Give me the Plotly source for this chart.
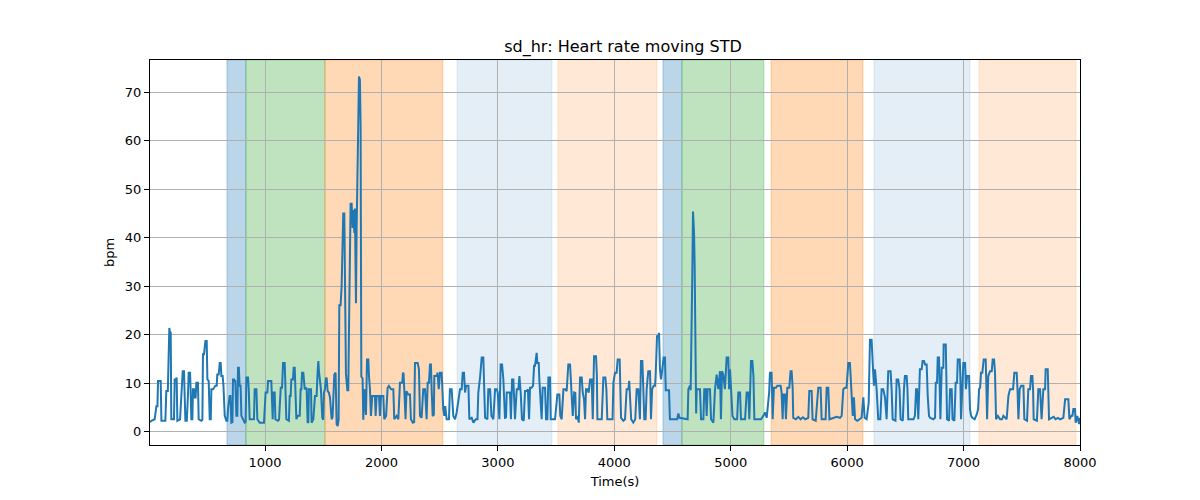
import plotly.graph_objects as go

# ---- data ----
time_s = [
    12, 24, 52, 58, 67, 76, 81, 104, 110, 144, 152, 165, 172, 178, 184, 190, 195, 218, 224, 236,
    241, 247, 270, 281, 287, 293, 304, 310, 316, 328, 333, 339, 344, 356, 361, 367, 376, 381, 390, 396,
    404, 410, 424, 430, 453, 462, 467, 476, 488, 499, 505, 516, 525, 534, 539, 553, 562, 573, 585, 590,
    602, 611, 619, 625, 636, 643, 654, 668, 676, 682, 696, 703, 711, 720, 725, 734, 740, 745, 754, 762,
    768, 775, 782, 790, 797, 810, 825, 833, 840, 854, 860, 868, 883, 905, 911, 926, 934, 954, 991, 997,
    1005, 1020, 1026, 1054, 1060, 1066, 1071, 1083, 1089, 1110, 1120, 1126, 1135, 1146, 1155, 1169, 1175, 1183, 1205, 1212,
    1220, 1226, 1240, 1246, 1255, 1260, 1269, 1280, 1298, 1306, 1312, 1318, 1329, 1341, 1357,
    1366, 1372, 1377, 1395, 1400, 1415, 1429, 1443, 1452, 1458, 1463, 1472, 1480, 1492, 1500, 1506, 1515, 1523, 1529, 1538,
    1548, 1558, 1572, 1580, 1586, 1595, 1606, 1615, 1624, 1632, 1638, 1649, 1658, 1666, 1672, 1681, 1686, 1695, 1707, 1715,
    1724, 1729, 1735, 1744, 1752, 1758, 1767, 1772, 1781, 1787, 1795, 1801, 1807, 1815, 1821, 1827, 1838, 1844, 1853, 1858,
    1867, 1876, 1887, 1893, 1901, 1910, 1921, 1944, 1950, 1959, 1979, 1987, 1996, 2016, 2024, 2040, 2053, 2064, 2074, 2082,
    2102, 2110, 2130, 2145, 2159, 2179, 2185, 2190, 2196, 2207, 2215, 2230, 2245, 2253, 2270, 2281, 2288, 2311, 2322, 2331,
    2345, 2359, 2374, 2388, 2397, 2408, 2417, 2425, 2431, 2440, 2450, 2454, 2474, 2482, 2492, 2503, 2517, 2523, 2531, 2540,
    2548, 2560, 2580, 2588, 2603, 2617, 2632, 2646, 2666, 2675, 2689,
    2698, 2709, 2718, 2727, 2747, 2755, 2775, 2790, 2810, 2825, 2832, 2847, 2861, 2875, 2881, 2890, 2910, 2918, 2933, 2945,
    2961, 2976, 2990, 2999, 3013, 3024, 3036, 3047, 3061, 3070, 3076, 3104, 3112, 3122, 3133, 3147, 3162, 3176, 3185, 3196,
    3207, 3222, 3233, 3248, 3258, 3268, 3276, 3290, 3302, 3311, 3319, 3328, 3333, 3339, 3351, 3356, 3365, 3376, 3385, 3405,
    3414, 3425, 3434, 3448, 3454, 3491, 3511, 3528, 3536, 3548, 3563, 3577, 3591, 3605, 3620, 3628, 3643, 3655, 3665, 3671,
    3683, 3695, 3706, 3720, 3729, 3740, 3749, 3757, 3769, 3780, 3792, 3806, 3815, 3826, 3843, 3850, 3855, 3892, 3906, 3923,
    3932, 3940, 3985, 3992, 4006, 4020, 4029, 4046, 4052,
    4058, 4078, 4092, 4106, 4121, 4128, 4135, 4145, 4163, 4180, 4192, 4206, 4220, 4229, 4241, 4249, 4258, 4269, 4278, 4292,
    4307, 4315, 4325, 4338, 4350, 4355, 4367, 4378, 4384, 4392, 4401, 4412, 4424, 4435, 4442, 4470, 4478, 4540, 4550, 4560,
    4620, 4630, 4636, 4650, 4656, 4662, 4670, 4676, 4685, 4690, 4696, 4703, 4708, 4736, 4745, 4765, 4773, 4785, 4793, 4802,
    4822, 4831, 4851, 4865, 4879, 4893, 4908, 4916, 4925, 4936, 4950, 4965, 4979, 4986, 4994, 5002, 5015, 5031, 5055, 5065,
    5080, 5088, 5123, 5137, 5151, 5160, 5174, 5186, 5195, 5203, 5260, 5280, 5295, 5309, 5323, 5330,
    5337, 5351, 5360, 5371, 5389, 5400, 5429, 5437, 5446, 5452, 5466, 5474, 5486, 5503, 5514, 5523, 5532, 5537, 5560, 5580,
    5600, 5620, 5640, 5666, 5675, 5695, 5703, 5730, 5752, 5772, 5781, 5815, 5824, 5838, 5848, 5880, 5910, 5938, 5953, 5967,
    5981, 5995, 6010, 6024, 6030, 6038, 6048, 6058, 6068, 6087, 6110, 6124, 6139, 6150, 6167, 6185, 6196, 6210, 6220, 6230,
    6239, 6253, 6267, 6285, 6296, 6310, 6325, 6339, 6353, 6373, 6382, 6391, 6415, 6425, 6439, 6450, 6459, 6478, 6488, 6496,
    6511, 6518, 6525, 6570, 6582, 6592, 6600, 6611, 6625, 6640, 6648, 6660, 6669, 6683, 6692,
    6703, 6712, 6740, 6755, 6761, 6772, 6778, 6789, 6795, 6801, 6812, 6826, 6829, 6847, 6852, 6858, 6875, 6884, 6898, 6905,
    6921, 6932, 6944, 6950, 6967, 6972, 6978, 6988, 6998, 7013, 7020, 7030, 7047, 7055, 7065, 7075, 7095, 7113, 7125, 7133,
    7142, 7150, 7161, 7173, 7190, 7196, 7202, 7212, 7227, 7242, 7250, 7262, 7270, 7279, 7295, 7313, 7330, 7342, 7370, 7385,
    7399, 7413, 7425, 7436, 7456, 7463, 7471, 7482, 7494, 7514, 7522, 7545, 7556, 7571, 7579, 7591, 7597, 7602, 7630, 7642,
    7657, 7670, 7685, 7700, 7705, 7723, 7728, 7734, 7757, 7775, 7790, 7810, 7830, 7857, 7872, 7900, 7909, 7925, 7935, 7943,
    7957, 7963, 7977, 7992, 8000,
]

sd_hr_bpm = [
    2.0, 2.3, 2.6, 3.4, 5.3, 5.3, 10.5, 10.5, 2.3, 2.3, 8.4, 8.4, 21.4, 21.4, 20.4, 20.4, 2.6, 2.6, 10.8, 10.8,
    11.2, 2.3, 2.6, 8.8, 8.8, 12.5, 12.5, 8.8, 2.3, 2.3, 8.1, 8.1, 12.2, 12.2, 8.8, 2.6, 2.6, 8.8, 8.8, 7.1,
    7.1, 10.1, 10.1, 2.6, 2.3, 2.5, 16.0, 16.0, 18.7, 18.7, 10.8, 10.5, 2.6, 2.6, 8.8, 8.8, 9.1, 9.5, 9.5, 11.8,
    11.8, 14.2, 14.2, 11.5, 11.5, 9.5, 3.3, 2.3, 2.3, 4.7, 7.4, 7.4, 1.9, 2.0, 10.8, 10.8, 10.5, 10.5, 3.3, 3.3,
    13.2, 13.2, 9.5, 9.5, 3.3, 2.6, 1.9, 2.0, 11.2, 11.2, 8.8, 2.6, 2.6, 2.6, 8.8, 8.8, 2.6, 1.9, 1.9, 6.0,
    8.1, 8.1, 10.5, 10.5, 2.6, 2.6, 8.1, 8.1, 2.6, 2.3, 2.5, 6.7, 9.1, 9.1, 14.2, 14.2, 9.5, 2.6, 2.3, 7.4,
    7.4, 10.8, 10.8, 13.2, 13.2, 8.8, 2.6, 3.3, 3.3, 8.8, 8.8, 12.2, 12.2, 8.8, 9.1,
    1.9, 2.0, 8.8, 8.8, 1.9, 2.6, 7.4, 7.4, 12.5, 14.6, 12.5, 10.8, 8.8, 2.9, 2.5, 8.1, 8.8, 11.0, 11.2, 8.4,
    8.1, 7.1, 2.6, 3.0, 8.8, 11.8, 12.2, 1.6, 1.2, 2.5, 26.1, 26.1, 30.0, 36.0, 45.0, 45.0, 32.0, 12.0, 8.6, 8.6,
    26.5, 35.0, 47.0, 47.0, 42.0, 45.7, 41.0, 46.0, 26.5, 42.0, 55.3, 56.7, 73.2, 72.5, 63.0, 11.4, 11.0, 2.5, 8.8, 7.3,
    3.5, 14.9, 14.9, 11.5, 8.8, 3.3, 7.4, 7.4, 3.3, 7.4, 7.4, 3.3, 7.4, 7.4, 2.6, 3.3, 9.1, 9.5, 9.0, 8.8,
    8.8, 2.6, 3.3, 2.6, 10.1, 10.1, 12.2, 12.0, 8.8, 2.6, 8.4, 7.7, 7.7, 2.6, 1.9, 2.0, 14.2, 14.2, 12.9, 3.3,
    2.9, 8.8, 8.8, 2.6, 10.1, 10.1, 13.9, 13.9, 8.8, 3.3, 3.5, 11.5, 11.5, 12.2, 8.8, 12.2, 12.2, 8.4, 4.7, 3.3,
    5.3, 2.6, 2.6, 8.8, 8.8, 3.3, 2.6, 4.0, 7.4, 8.8, 8.8,
    12.2, 12.2, 8.1, 9.5, 9.5, 2.6, 2.9, 1.9, 2.6, 2.6, 8.1, 11.2, 15.3, 15.3, 11.2, 2.9, 2.6, 8.8, 8.8, 3.3,
    2.6, 8.8, 8.8, 8.1, 2.6, 13.9, 13.9, 10.8, 2.9, 3.0, 8.1, 8.1, 2.6, 10.8, 10.8, 2.6, 8.8, 8.8, 11.5, 8.1,
    2.6, 2.3, 8.4, 8.4, 8.8, 2.6, 9.1, 9.1, 9.5, 13.6, 13.6, 16.3, 16.3, 14.2, 14.2, 10.8, 7.4, 2.6, 9.1, 9.1,
    2.6, 2.6, 11.2, 11.2, 2.6, 2.6, 7.7, 7.7, 3.3, 2.6, 8.8, 8.8, 8.4, 13.9, 13.9, 10.8, 3.3, 8.1, 8.0, 2.6,
    3.3, 1.9, 11.2, 11.2, 8.1, 6.7, 2.6, 8.8, 8.8, 8.1, 10.8, 10.8, 2.6, 15.6, 15.6, 11.8, 2.6, 2.6, 11.2, 11.2,
    8.8, 2.6, 2.6, 10.1, 12.2, 12.2, 14.9, 14.9, 8.1,
    2.9, 2.3, 2.6, 8.8, 8.8, 10.5, 6.0, 2.6, 1.9, 2.6, 8.8, 8.8, 2.6, 14.6, 14.6, 8.8, 2.6, 2.6, 8.8, 12.5,
    12.5, 2.6, 8.8, 9.5, 9.5, 11.5, 19.7, 19.7, 20.4, 12.9, 10.8, 12.9, 15.3, 15.3, 8.6, 8.6, 2.6, 2.6, 3.8, 2.9,
    2.6, 2.6, 8.8, 9.5, 8.6, 25.1, 32.7, 45.4, 40.9, 34.7, 9.3, 3.8, 8.8, 8.8, 2.6, 2.6, 8.8, 8.8, 3.3, 8.8,
    8.8, 2.6, 1.9, 8.8, 11.8, 8.8, 12.5, 2.6, 12.5, 11.8, 8.8, 15.3, 15.3, 8.8, 12.9, 8.8, 3.3, 2.6, 2.6, 8.1,
    8.1, 2.6, 2.6, 8.1, 8.1, 2.6, 14.6, 14.6, 11.5, 2.6, 2.6, 3.3, 4.0, 2.9, 6.0, 8.1,
    12.2, 12.2, 2.6, 9.1, 9.1, 9.5, 9.5, 8.1, 2.6, 7.7, 7.7, 2.6, 9.1, 9.1, 12.5, 12.5, 9.1, 2.9, 2.6, 3.1,
    2.6, 3.0, 2.6, 2.9, 8.4, 8.4, 2.6, 2.3, 9.1, 9.1, 2.6, 2.6, 9.1, 9.1, 2.6, 2.9, 3.1, 2.9, 3.3, 8.8,
    9.1, 9.1, 14.2, 14.2, 11.8, 7.4, 3.3, 7.1, 2.6, 2.3, 2.6, 2.9, 7.1, 2.9, 2.6, 6.0, 19.0, 19.0, 13.9, 9.5,
    12.9, 8.8, 2.6, 2.6, 8.8, 8.8, 7.1, 2.6, 12.5, 12.5, 8.8, 2.6, 2.3, 10.8, 10.8, 8.8, 2.6, 2.3, 8.8, 11.5,
    11.5, 8.8, 2.6, 2.6, 3.3, 8.8, 8.8, 2.6, 12.9, 12.9, 14.6, 14.6, 13.9, 13.9, 7.4,
    3.3, 2.9, 2.6, 2.9, 10.1, 10.1, 15.3, 15.3, 10.1, 2.6, 13.2, 13.2, 18.0, 18.0, 11.5, 2.6, 2.3, 8.8, 8.8, 2.6,
    2.3, 10.1, 10.1, 14.9, 14.9, 11.5, 2.6, 8.1, 14.2, 14.2, 8.8, 11.5, 11.5, 4.7, 3.3, 2.9, 2.6, 3.6, 4.7, 8.8,
    9.1, 12.2, 12.2, 14.9, 14.9, 9.5, 2.6, 11.5, 12.5, 12.5, 14.9, 14.9, 12.2, 2.6, 3.3, 2.6, 2.6, 3.3, 2.6, 7.4,
    8.8, 8.8, 8.8, 12.2, 12.2, 8.8, 2.6, 8.8, 9.5, 9.5, 2.6, 2.3, 8.8, 8.8, 11.5, 11.5, 8.8, 2.6, 2.3, 8.8,
    8.8, 2.6, 8.8, 8.8, 12.9, 12.9, 8.8, 2.6, 2.9, 3.1, 2.6, 2.9, 2.6, 2.9, 6.7, 6.7, 2.6, 3.3, 3.3, 4.7,
    4.7, 1.9, 3.3, 1.6, 2.9,
]

# shaded phases: start, end (s) and kind
span_start = [673, 836, 1515, 2649, 3516, 4418, 4581, 5346, 6230, 7132]
span_end = [836, 1515, 2528, 3465, 4367, 4581, 5285, 6136, 7055, 7965]
span_kind = ["blue", "green", "orange", "lightblue", "lightorange",
             "blue", "green", "orange", "lightblue", "lightorange"]

x_ticks = [1000, 2000, 3000, 4000, 5000, 6000, 7000, 8000]
y_ticks = [0, 10, 20, 30, 40, 50, 60, 70]

# ---- styles ----
span_colors = {
    "blue": "rgba(31,119,180,0.3)",
    "green": "rgba(44,160,44,0.3)",
    "orange": "rgba(255,127,14,0.3)",
    "lightblue": "rgba(31,119,180,0.12)",
    "lightorange": "rgba(255,127,14,0.17)",
}

fig = go.Figure()
fig.add_trace(go.Scatter(
    x=time_s, y=sd_hr_bpm, mode="lines",
    line=dict(color="#1f77b4", width=2),
    showlegend=False,
))

for s0, s1, k in zip(span_start, span_end, span_kind):
    fig.add_shape(type="rect", xref="x", yref="paper", x0=s0, x1=s1, y0=0, y1=1,
                  fillcolor=span_colors[k], line=dict(color=span_colors[k], width=1),
                  layer="below")

font = "DejaVu Sans, Arial, sans-serif"
fig.update_layout(
    width=1200, height=500,
    margin=dict(l=142, r=128, t=52, b=63),
    paper_bgcolor="white", plot_bgcolor="white",
    font=dict(family=font, size=13, color="black"),
    title=dict(text="sd_hr: Heart rate moving STD", x=0.5125, xanchor="center",
               yref="container", y=0.924, yanchor="middle",
               font=dict(family=font, size=16, color="black")),
    xaxis=dict(range=[12, 8000], tickvals=x_ticks, showgrid=True, gridcolor="#b0b0b0",
               gridwidth=1, showline=True, linecolor="black", linewidth=1, mirror=True,
               ticks="outside", ticklen=5, tickcolor="black", zeroline=False,
               title=dict(text="Time(s)", standoff=8, font=dict(size=13))),
    yaxis=dict(range=[-2.7, 76.6], tickvals=y_ticks, showgrid=True, gridcolor="#b0b0b0",
               gridwidth=1, showline=True, linecolor="black", linewidth=1, mirror=True,
               ticks="outside", ticklen=5, tickcolor="black", zeroline=False,
               title=dict(text="bpm", standoff=7, font=dict(size=13))),
)

fig.write_html("out.html")
